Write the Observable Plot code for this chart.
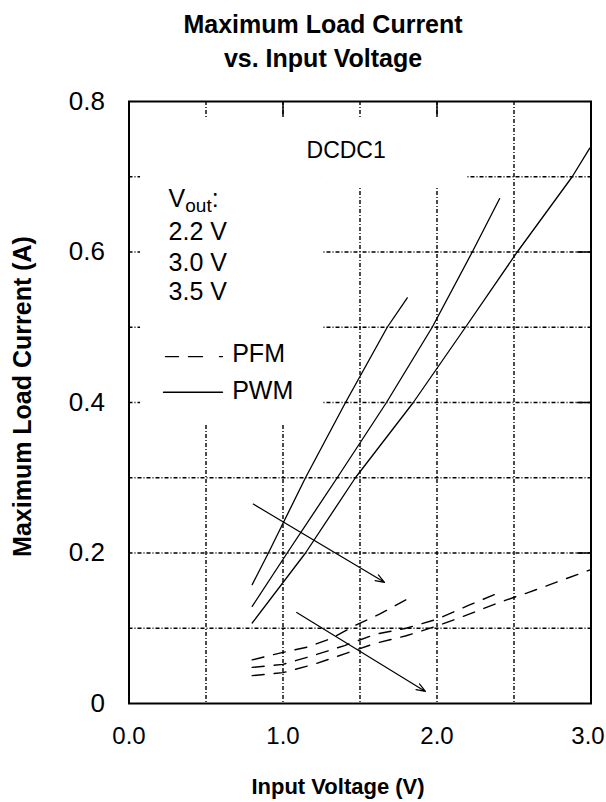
<!DOCTYPE html>
<html>
<head>
<meta charset="utf-8">
<script src="https://cdn.jsdelivr.net/npm/d3@7"></script>
<script src="https://cdn.jsdelivr.net/npm/@observablehq/plot@0.6"></script>
<style>
  body { margin: 0; background: #fff; }
  #chart { width: 606px; height: 802px; }
</style>
</head>
<body>
<div id="chart"></div>
<script>
// ---------- Data ----------
// PWM (solid) curves: input voltage (V) vs max load current (A)
const pwm22X = [0.80, 0.905, 1.146, 1.406, 1.677, 1.807];
const pwm22Y = [0.158, 0.200, 0.300, 0.400, 0.500, 0.539];
const pwm30X = [0.80, 1.027, 1.352, 1.672, 1.969, 2.229, 2.407];
const pwm30Y = [0.129, 0.200, 0.300, 0.400, 0.500, 0.600, 0.671];
const pwm35X = [0.80, 1.146, 1.470, 1.846, 2.185, 2.521, 2.878, 2.992];
const pwm35Y = [0.107, 0.200, 0.300, 0.400, 0.500, 0.600, 0.700, 0.738];
// PFM (dashed) curves
const pfm22X = [0.80, 1.00, 1.16, 1.32, 1.47, 1.63, 1.80];
const pfm22Y = [0.058, 0.068, 0.075, 0.087, 0.104, 0.119, 0.138];
const pfm30X = [0.80, 1.00, 1.20, 1.40, 1.60, 1.80, 2.00, 2.20, 2.40];
const pfm30Y = [0.048, 0.052, 0.064, 0.077, 0.092, 0.100, 0.112, 0.130, 0.147];
const pfm35X = [0.80, 1.00, 1.20, 1.40, 1.60, 1.80, 2.00, 2.20, 2.40, 2.60, 2.80, 3.00];
const pfm35Y = [0.037, 0.041, 0.052, 0.066, 0.080, 0.090, 0.103, 0.118, 0.134, 0.148, 0.163, 0.178];

// Axis ticks
const xTicks = [0, 1, 2, 3];
const yTicks = [0, 0.2, 0.4, 0.6, 0.8];
const xGrid = [0.5, 1.0, 1.5, 2.0, 2.5];
const yGrid = [0.1, 0.2, 0.3, 0.4, 0.5, 0.6, 0.7];
const xMajor = [1, 2];
const yMajor = [0.2, 0.4, 0.6];

// Annotations
const titleLines = ["Maximum Load Current", "vs. Input Voltage"];
const xLabel = "Input Voltage (V)";
const yLabel = "Maximum Load Current (A)";
const headText = ["DCDC1"];
const headX = [1.41];
const headY = [0.735];
const noteText = ["Vout:", "2.2 V", "3.0 V", "3.5 V", "PFM", "PWM"];
const noteX    = [0.257, 0.257, 0.257, 0.257, 0.670, 0.670];
const noteY    = [0.671, 0.627, 0.586, 0.547, 0.464, 0.415];
const arrowX1 = [0.807, 1.089];
const arrowY1 = [0.265, 0.121];
const arrowX2 = [1.659, 1.925];
const arrowY2 = [0.161, 0.016];
const legendPFM = {x: [0.237, 0.607], y: [0.461, 0.461]};
const legendPWM = {x: [0.224, 0.607], y: [0.4136, 0.4136]};
// blank (white) areas behind the labels, where the grid is not drawn
const maskX1 = [0.075, 1.256];
const maskX2 = [1.256, 2.198];
const maskY1 = [0.370, 0.685];
const maskY2 = [0.776, 0.776];

// ---------- Build tables ----------
const toRows = (xs, ys) => xs.map((x, i) => ({x, y: ys[i]}));
const pwmSeries = [toRows(pwm22X, pwm22Y), toRows(pwm30X, pwm30Y), toRows(pwm35X, pwm35Y)];
const pfmSeries = [toRows(pfm22X, pfm22Y), toRows(pfm30X, pfm30Y), toRows(pfm35X, pfm35Y)];
const heads = headText.map((t, i) => ({t, x: headX[i], y: headY[i]}));
const notes = noteText.map((t, i) => ({t, x: noteX[i], y: noteY[i]}));
const arrows = arrowX1.map((x1, i) => ({x1, y1: arrowY1[i], x2: arrowX2[i], y2: arrowY2[i]}));
const masks = maskX1.map((x1, i) => ({x1, x2: maskX2[i], y1: maskY1[i], y2: maskY2[i]}));

const FONT = "'Liberation Sans', Arial, Helvetica, sans-serif";
const gridStyle = {stroke: "#000", strokeWidth: 1.4, strokeDasharray: "4,2,1,2"};

const marks = [
  Plot.ruleX(xGrid, gridStyle),
  Plot.ruleY(yGrid, gridStyle),
  Plot.rect(masks, {x1: "x1", x2: "x2", y1: "y1", y2: "y2", fill: "white"}),
  Plot.ruleX(xMajor, {y1: 0.8, y2: 0.78, stroke: "#000", strokeWidth: 1.5}),
  Plot.ruleY(yMajor, {x1: 2.91, x2: 3.0, stroke: "#000", strokeWidth: 1.5}),
  Plot.frame({stroke: "#000", strokeWidth: 2}),
  ...pfmSeries.map(s => Plot.line(s, {x: "x", y: "y", stroke: "#000", strokeWidth: 1.4, strokeDasharray: "12,10"})),
  ...pwmSeries.map(s => Plot.line(s, {x: "x", y: "y", stroke: "#000", strokeWidth: 1.3})),
  Plot.arrow(arrows, {x1: "x1", y1: "y1", x2: "x2", y2: "y2", stroke: "#000", strokeWidth: 1.2, headLength: 12, headAngle: 40}),
  Plot.line(toRows(legendPFM.x, legendPFM.y), {x: "x", y: "y", stroke: "#000", strokeWidth: 1.4, strokeDasharray: "13,10,14,17,3,60"}),
  Plot.line(toRows(legendPWM.x, legendPWM.y), {x: "x", y: "y", stroke: "#000", strokeWidth: 1.4}),
  Plot.text(heads, {x: "x", y: "y", text: "t", textAnchor: "middle", fontSize: 23, fill: "#000"}),
  Plot.text(notes, {x: "x", y: "y", text: "t", textAnchor: "start", fontSize: 25, fill: "#000"}),
  Plot.axisX({ticks: xTicks, tickFormat: d => d.toFixed(1), tickSize: 0, tickPadding: 23, fontSize: 24, label: null}),
  Plot.axisY({ticks: yTicks, tickFormat: d => d === 0 ? "0" : d.toFixed(1), tickSize: 0, tickPadding: 24, fontSize: 26, label: null}),
  Plot.text([titleLines[0]], {frameAnchor: "top", text: d => d, textAnchor: "middle", lineAnchor: "middle", dx: -37, dy: -77, fontSize: 25, fontWeight: "bold"}),
  Plot.text([titleLines[1]], {frameAnchor: "top", text: d => d, textAnchor: "middle", lineAnchor: "middle", dx: -37, dy: -43, fontSize: 25, fontWeight: "bold"}),
  Plot.text([xLabel], {frameAnchor: "bottom", text: d => d, textAnchor: "middle", lineAnchor: "middle", dx: -22, dy: 83, fontSize: 22, fontWeight: "bold"}),
  Plot.text([yLabel], {frameAnchor: "left", text: d => d, rotate: -90, textAnchor: "middle", lineAnchor: "middle", dx: -106, dy: -6, fontSize: 25, fontWeight: "bold"})
];

const chart = Plot.plot({
  width: 606,
  height: 802,
  marginLeft: 128.5,
  marginRight: 15.5,
  marginTop: 101,
  marginBottom: 99,
  x: {domain: [0, 3]},
  y: {domain: [0, 0.8]},
  style: {fontFamily: FONT, fontSize: "24px", color: "#000", background: "#fff", overflow: "visible"},
  marks
});

// subscript for "Vout:"
d3.select(chart).selectAll("text").filter(function () { return this.textContent === "Vout:"; })
  .each(function () {
    const t = d3.select(this);
    t.text(null);
    t.append("tspan").text("V");
    t.append("tspan").attr("font-size", 19).attr("dy", 5).text("out");
    t.append("tspan").attr("dy", -5).text(":");
  });
// keep the last x tick label inside the picture (it sits at the right edge)
d3.select(chart).selectAll("text").filter(function () { return this.textContent === "3.0"; })
  .attr("dx", -3);

document.getElementById("chart").appendChild(chart);
</script>
</body>
</html>
